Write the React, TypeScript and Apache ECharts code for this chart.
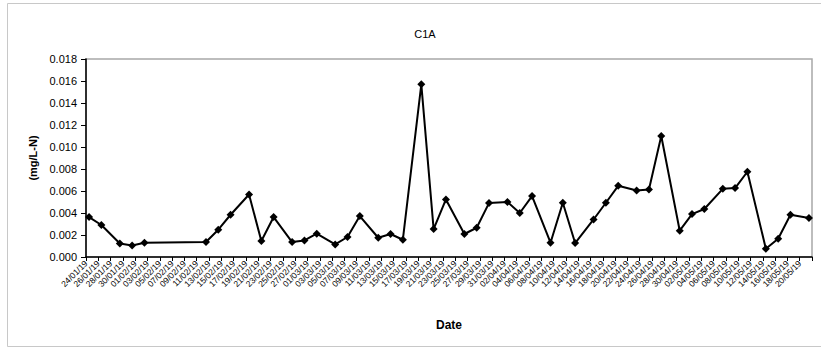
import React, { useEffect, useRef } from "react";
import * as echarts from "echarts";

const START_DATE = "24/01/19";
const sampleDates = [
  "24/01/19", "26/01/19", "29/01/19", "31/01/19", "02/02/19", "12/02/19", "14/02/19", "16/02/19",
  "19/02/19", "21/02/19", "23/02/19", "26/02/19", "28/02/19", "02/03/19", "05/03/19", "07/03/19",
  "09/03/19", "12/03/19", "14/03/19", "16/03/19", "19/03/19", "21/03/19", "23/03/19", "26/03/19",
  "28/03/19", "30/03/19", "02/04/19", "04/04/19", "06/04/19", "09/04/19", "11/04/19", "13/04/19",
  "16/04/19", "18/04/19", "20/04/19", "23/04/19", "25/04/19", "27/04/19", "30/04/19", "02/05/19",
  "04/05/19", "07/05/19", "09/05/19", "11/05/19", "14/05/19", "16/05/19", "18/05/19", "21/05/19",
];
const concentrations = [
  0.00363, 0.00291, 0.00123, 0.00105, 0.0013, 0.00136, 0.00248, 0.00384,
  0.00568, 0.00145, 0.00363, 0.00136, 0.00151, 0.00212, 0.00114, 0.00182,
  0.00372, 0.00175, 0.00209, 0.00157, 0.0157, 0.00254, 0.00523, 0.00209,
  0.00266, 0.0049, 0.005, 0.004, 0.00554, 0.0013, 0.00493, 0.00127,
  0.00341, 0.00493, 0.00647, 0.00605, 0.00614, 0.011, 0.00239, 0.0039,
  0.00436, 0.0062, 0.00627, 0.00775, 0.00075, 0.00166, 0.00384, 0.00354,
];
const AXIS_DAYS = 118;
const Y_MAX = 0.018;
const Y_STEP = 0.002;

const DAY = 86400000;
function parseDate(s: string): number {
  const [d, m, y] = s.split("/").map(Number);
  return Date.UTC(2000 + y, m - 1, d);
}
const t0 = parseDate(START_DATE);
function dayIndex(s: string): number {
  return Math.round((parseDate(s) - t0) / DAY);
}
function fmtDay(v: number): string {
  const dt = new Date(t0 + Math.round(v) * DAY);
  const dd = String(dt.getUTCDate()).padStart(2, "0");
  const mm = String(dt.getUTCMonth() + 1).padStart(2, "0");
  const yy = String(dt.getUTCFullYear() % 100).padStart(2, "0");
  return `${dd}/${mm}/${yy}`;
}

const FONT = "Liberation Sans";

export default function App() {
  const ref = useRef<HTMLDivElement>(null);
  useEffect(() => {
    if (!ref.current) return;
    const chart = echarts.init(ref.current, null, { renderer: "svg" });
    const data = sampleDates.map((d, i) => [dayIndex(d) + 0.5, concentrations[i]]);
    const labelBase = {
      rotate: 45,
      fontFamily: FONT,
      fontSize: 8.5,
      color: "#000",
      margin: 5,
      showMinLabel: true,
      showMaxLabel: true,
      hideOverlap: false,
    };
    chart.setOption({
      animation: false,
      backgroundColor: "#ffffff",
      title: {
        text: "C1A",
        left: 420,
        top: 23,
        textAlign: "center",
        textStyle: { fontFamily: FONT, fontSize: 11, fontWeight: "normal", color: "#000" },
      },
      graphic: [
        {
          type: "rect",
          shape: { x: 7.5, y: 3.5, width: 830, height: 343 },
          style: { fill: "none", stroke: "#c8c8c8", lineWidth: 1 },
          silent: true,
        },
      ],
      grid: {
        left: 86,
        right: 9,
        top: 59,
        bottom: 91,
        show: true,
        borderColor: "#a8a8a8",
        borderWidth: 1.5,
        backgroundColor: "transparent",
      },
      xAxis: [
        {
          type: "value",
          min: 0,
          max: AXIS_DAYS,
          interval: 2,
          name: "Date",
          nameLocation: "middle",
          nameGap: 62,
          nameTextStyle: { fontFamily: FONT, fontSize: 12, fontWeight: "bold", color: "#000" },
          axisLine: { show: true, onZero: false, lineStyle: { color: "#000", width: 1.5 } },
          axisTick: { show: true, inside: false, length: 4, lineStyle: { color: "#000" } },
          splitLine: { show: false },
          axisLabel: {
            ...labelBase,
            formatter: (v: number) => (v <= 0 || v >= AXIS_DAYS ? "" : fmtDay(v)),
          },
        },
        {
          type: "value",
          position: "bottom",
          offset: 0,
          min: 0,
          max: AXIS_DAYS,
          interval: 2,
          axisLine: { show: false },
          axisTick: { show: false },
          splitLine: { show: false },
          axisLabel: {
            ...labelBase,
            formatter: (v: number) => (v === 0 ? fmtDay(v) : ""),
          },
        },
      ],
      yAxis: {
        type: "value",
        min: 0,
        max: Y_MAX,
        interval: Y_STEP,
        name: "(mg/L-N)",
        nameLocation: "middle",
        nameGap: 47,
        nameRotate: 90,
        nameTextStyle: { fontFamily: FONT, fontSize: 11, fontWeight: "bold", color: "#000" },
        axisLine: { show: true, lineStyle: { color: "#000", width: 1.5 } },
        axisTick: { show: true, inside: false, length: 5, lineStyle: { color: "#000" } },
        splitLine: { show: false },
        axisLabel: {
          fontFamily: FONT,
          fontSize: 11,
          color: "#000",
          margin: 9,
          formatter: (v: number) => v.toFixed(3),
        },
      },
      series: [
        {
          type: "line",
          xAxisIndex: 0,
          data,
          symbol: "diamond",
          symbolSize: 8,
          itemStyle: { color: "#000" },
          lineStyle: { color: "#000", width: 2 },
        },
      ],
    });
    return () => chart.dispose();
  }, []);
  return (
    <div
      ref={ref}
      style={{ position: "absolute", left: 0, top: 0, width: 821, height: 348 }}
    />
  );
}
